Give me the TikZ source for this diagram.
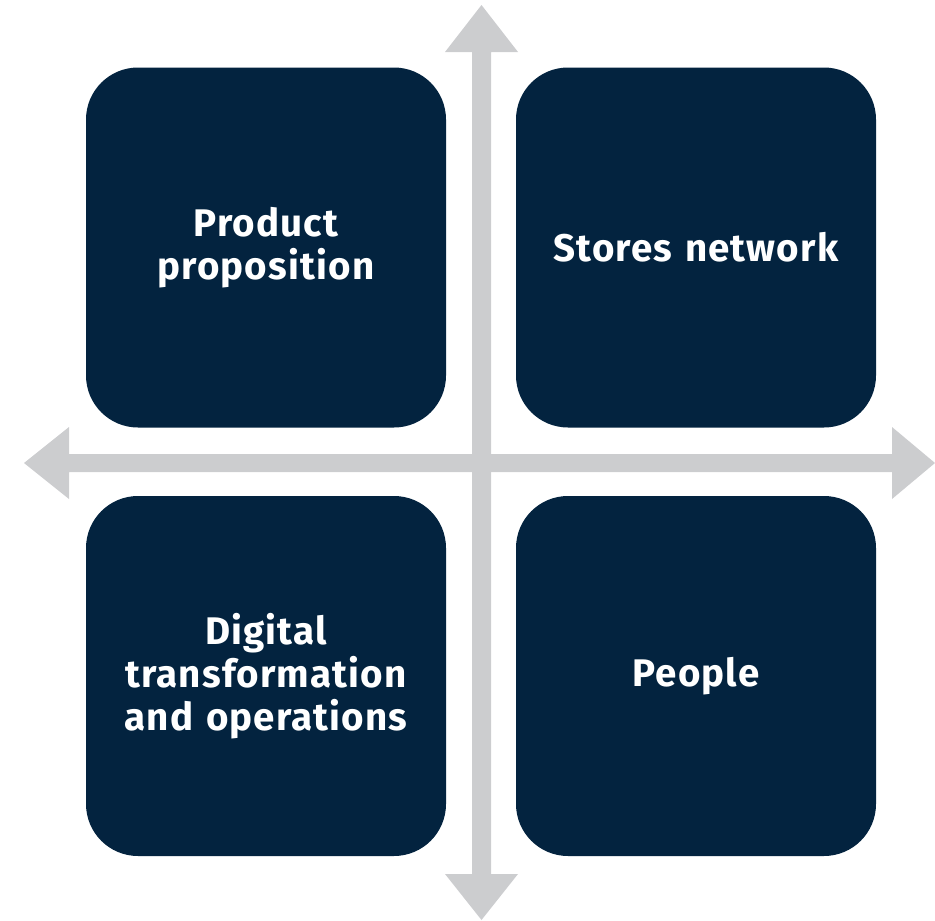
\documentclass[tikz,border=0pt]{standalone}
\usepackage{fontspec}
\setmainfont{Fira Sans}[BoldFont={Fira Sans Bold},LetterSpace=3]
\definecolor{navy}{HTML}{03233F}
\definecolor{axisgray}{HTML}{CCCDCF}
\begin{document}
\begin{tikzpicture}[x=1pt,y=-1pt,
  quadbox/.style={fill=navy,draw=none,rounded corners=52pt,
    minimum width=360pt,minimum height=360pt,inner sep=0pt,
    text=white,align=center,text width=340pt,
    font=\bfseries\fontsize{38.5}{43}\selectfont},
  axisarrow/.style={fill=axisgray,draw=none}]
\useasboundingbox (0,0) rectangle (935,921);
% axes with arrow heads on both ends
\fill[axisarrow] (472,52) -- (445,52) -- (481.5,5) -- (518,52) -- (491,52)
  -- (491,874) -- (518,874) -- (481.5,920) -- (445,874) -- (472,874) -- cycle;
\fill[axisarrow] (69,454) -- (69,427) -- (24,463) -- (69,499) -- (69,472)
  -- (892,472) -- (892,499) -- (935,463) -- (892,427) -- (892,454) -- cycle;
% the four quadrants
\node[quadbox] (product) at (266,247.5) {Product\\proposition};
\node[quadbox] (stores)  at (696,247.5) {Stores network};
\node[quadbox] (digital) at (266,676)   {Digital\\transformation\\and operations};
\node[quadbox] (people)  at (696,676)   {People};
\end{tikzpicture}
\end{document}
